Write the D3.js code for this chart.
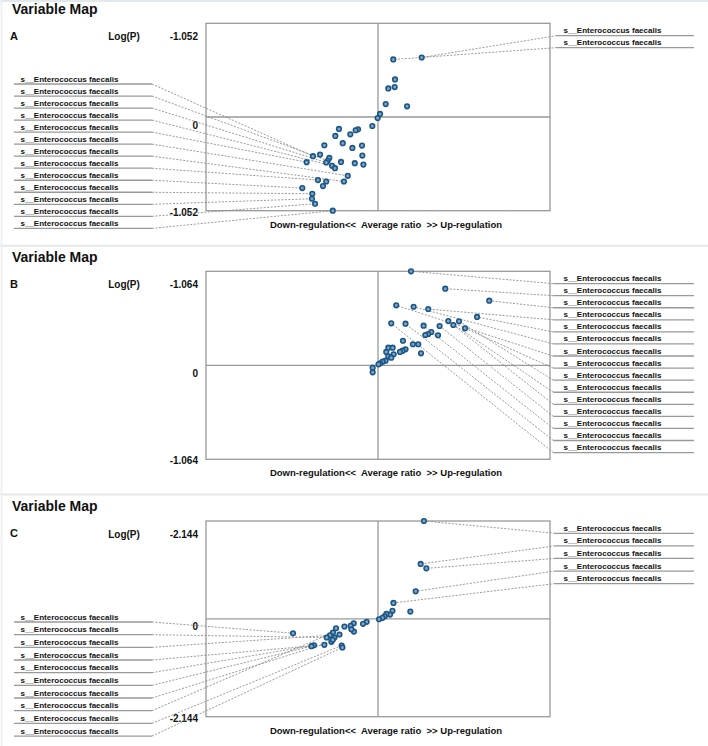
<!DOCTYPE html>
<html lang="en">
<head>
<meta charset="UTF-8" />
<title>Variable Map</title>
<script src="https://cdn.jsdelivr.net/npm/d3@7/dist/d3.min.js"></script>
<style>
  body { margin: 0; background: #fff; }
  svg text { font-family: "Liberation Sans", Arial, sans-serif; font-weight: bold; fill: #111; }
</style>
</head>
<body>
<script>

// ---- values ----
var chartTitle = "Variable Map";
var yTitle = "Log(P)";
var xTitle = "Down-regulation<<  Average ratio  >> Up-regulation";
var taxon = "s__Enterococcus faecalis";

// panel A  [average ratio, log(P)]
var aMax = 1.052;
var aTickLabels = ["-1.052", "0", "-1.052"];
var aPoints = [
  [0.089, 0.646], [0.254, 0.668], [0.099, 0.422], [0.060, 0.321], [0.097, 0.336],
  [0.045, 0.145], [0.169, 0.120], [0.012, 0.034], [-0.002, -0.011], [-0.033, -0.101],
  [-0.227, -0.134], [-0.248, -0.213], [-0.116, -0.138], [-0.130, -0.149], [-0.161, -0.194],
  [-0.312, -0.317], [-0.205, -0.294], [-0.149, -0.347], [-0.093, -0.321], [-0.337, -0.422],
  [-0.378, -0.440], [-0.283, -0.459], [-0.292, -0.492], [-0.301, -0.511], [-0.415, -0.507],
  [-0.215, -0.504], [-0.091, -0.433], [-0.135, -0.518], [-0.085, -0.534], [-0.267, -0.548],
  [-0.250, -0.574], [-0.176, -0.660], [-0.349, -0.708], [-0.301, -0.724], [-0.198, -0.724],
  [-0.320, -0.776], [-0.440, -0.798], [-0.382, -0.862], [-0.384, -0.918], [-0.366, -0.974],
  [-0.263, -1.052]
];
var aLeftLinks = [20, 22, 23, 29, 24, 31, 34, 32, 36, 37, 38, 39, 40];
var aRightLinks = [1, 0];

// panel B
var bMax = 1.064;
var bTickLabels = ["-1.064", "0", "-1.064"];
var bPoints = [
  [0.192, 1.064], [0.391, 0.867], [0.647, 0.731], [0.106, 0.679], [0.207, 0.663],
  [0.292, 0.637], [0.576, 0.547], [0.077, 0.475], [0.160, 0.471], [0.265, 0.448],
  [0.358, 0.445], [0.409, 0.501], [0.438, 0.456], [0.471, 0.498], [0.506, 0.419],
  [0.310, 0.377], [0.292, 0.354], [0.275, 0.343], [0.349, 0.340], [0.145, 0.278],
  [0.203, 0.238], [0.234, 0.238], [0.250, 0.136], [0.160, 0.181], [0.143, 0.165],
  [0.128, 0.151], [0.060, 0.199], [0.085, 0.199], [0.048, 0.151], [0.091, 0.125],
  [0.060, 0.102], [0.077, 0.086], [0.044, 0.052], [0.027, 0.041], [0.013, 0.023],
  [0.003, 0.011], [-0.031, -0.027], [-0.031, -0.079]
];
var bLeftLinks = [];
var bRightLinks = [0, 1, 2, 5, 6, 4, 3, 14, 13, 11, 12, 10, 9, 8, 7];

// panel C
var cMax = 2.144;
var cTickLabels = ["-2.144", "0", "-2.144"];
var cPoints = [
  [0.267, 2.144], [0.248, 1.203], [0.281, 1.107], [0.219, 0.604], [0.090, 0.350],
  [0.188, 0.160], [0.084, 0.175], [0.070, 0.094], [0.049, 0.109], [0.039, 0.057],
  [0.026, 0.022], [0.006, -0.009], [-0.066, -0.066], [-0.087, -0.109], [-0.141, -0.096],
  [-0.159, -0.153], [-0.195, -0.168], [-0.140, -0.278], [-0.155, -0.228], [-0.244, -0.206],
  [-0.262, -0.300], [-0.279, -0.359], [-0.298, -0.409], [-0.253, -0.409], [-0.224, -0.343],
  [-0.271, -0.503], [-0.263, -0.459], [-0.312, -0.569], [-0.372, -0.578], [-0.387, -0.599],
  [-0.211, -0.584], [-0.207, -0.628], [-0.494, -0.315]
];
var cLeftLinks = [32, 22, 21, 27, 28, 29, 25, 20, 30, 31];
var cRightLinks = [0, 1, 2, 3, 4];

// ---- layout ----
var w = 708, h = 746;
var boxLeft = 206, boxRight = 550;
var grey = "#999999";

var panels = [
  { letter: "A", max: aMax, ticks: aTickLabels, points: aPoints, left: aLeftLinks, right: aRightLinks,
    titleY: 9.5, top: 23.3, bottom: 210.7, leftY: 78.7, leftStep: 12.03, rightY: 30.3, rightStep: 12, rightX: 557 },
  { letter: "B", max: bMax, ticks: bTickLabels, points: bPoints, left: bLeftLinks, right: bRightLinks,
    titleY: 256.7, top: 271.3, bottom: 459.3, leftY: 0, leftStep: 12, rightY: 278.3, rightStep: 12.07, rightX: 553.3 },
  { letter: "C", max: cMax, ticks: cTickLabels, points: cPoints, left: cLeftLinks, right: cRightLinks,
    titleY: 505.7, top: 521, bottom: 716.7, leftY: 616.7, leftStep: 12.67, rightY: 528, rightStep: 12.58, rightX: 555 }
];

var svg = d3.select("body").append("svg")
            .attr("width", w)
            .attr("height", h);

// faint frame / separators between the three maps
svg.selectAll("line.sep")
   .data([1, 245.7, 494.5])
   .enter()
   .append("line")
   .attr("x1", 0).attr("x2", w)
   .attr("y1", function(d) { return d; })
   .attr("y2", function(d) { return d; })
   .style("stroke", "#e3e8ec")
   .style("stroke-width", 2);

svg.append("line")
   .attr("x1", 1.5).attr("x2", 1.5)
   .attr("y1", 0).attr("y2", h)
   .style("stroke", "#eef1f3")
   .style("stroke-width", 2);

panels.forEach(function(p) {

  var xScale = d3.scaleLinear()
                 .domain([-1, 1])
                 .range([boxLeft, boxRight]);

  var yScale = d3.scaleLinear()
                 .domain([-p.max, p.max])
                 .range([p.bottom, p.top]);

  var g = svg.append("g");

  // title + letter
  g.append("text")
   .text(chartTitle)
   .attr("x", 12)
   .attr("y", p.titleY)
   .attr("dy", "0.35em")
   .style("font-size", "14px");

  g.append("text")
   .text(p.letter)
   .attr("x", 10)
   .attr("y", yScale(p.max) + 12.5)
   .attr("dy", "0.35em")
   .style("font-size", "11px");

  g.append("text")
   .text(yTitle)
   .attr("x", 124)
   .attr("y", yScale(p.max) + 13)
   .attr("dy", "0.35em")
   .attr("text-anchor", "middle")
   .style("font-size", "10px");

  // y labels (top, zero, bottom)
  var tickVals = [p.max, 0, -p.max];
  var tickOff = [13, 8, 1.5];
  g.selectAll("text.tick")
   .data(tickVals)
   .enter()
   .append("text")
   .attr("class", "tick")
   .text(function(d, i) { return p.ticks[i]; })
   .attr("x", 198)
   .attr("y", function(d, i) { return yScale(d) + tickOff[i]; })
   .attr("dy", "0.35em")
   .attr("text-anchor", "end")
   .style("font-size", "10px");

  // box and cross lines
  g.append("rect")
   .attr("x", xScale(-1))
   .attr("y", yScale(p.max))
   .attr("width", xScale(1) - xScale(-1))
   .attr("height", yScale(-p.max) - yScale(p.max))
   .style("fill", "none")
   .style("stroke", grey)
   .style("stroke-width", 1.3);

  g.append("line")
   .attr("x1", xScale(0)).attr("x2", xScale(0))
   .attr("y1", yScale(p.max)).attr("y2", yScale(-p.max))
   .style("stroke", grey)
   .style("stroke-width", 1.3);

  g.append("line")
   .attr("x1", xScale(-1)).attr("x2", xScale(1))
   .attr("y1", yScale(0)).attr("y2", yScale(0))
   .style("stroke", grey)
   .style("stroke-width", 1.3);

  g.append("text")
   .text(xTitle)
   .attr("x", 386)
   .attr("y", yScale(-p.max) + 13.5)
   .attr("dy", "0.35em")
   .attr("text-anchor", "middle")
   .style("font-size", "9.5px")
   .style("white-space", "pre");

  // label rows, left and right
  var rows = [];
  p.left.forEach(function(idx, i) {
    rows.push({ idx: idx, ty: p.leftY + i * p.leftStep, x1: 14, x2: 152, tx: 20.5, anchorX: 152 });
  });
  p.right.forEach(function(idx, i) {
    rows.push({ idx: idx, ty: p.rightY + i * p.rightStep, x1: p.rightX, x2: 694, tx: 563.5, anchorX: p.rightX });
  });

  // dashed leaders
  g.selectAll("line.lead")
   .data(rows)
   .enter()
   .append("line")
   .attr("x1", function(d) { return d.anchorX; })
   .attr("y1", function(d) { return d.ty + 5.3; })
   .attr("x2", function(d) { return xScale(p.points[d.idx][0]); })
   .attr("y2", function(d) { return yScale(p.points[d.idx][1]); })
   .style("stroke", "#888")
   .style("stroke-width", 0.85)
   .style("stroke-dasharray", "2,1.5");

  g.selectAll("line.under")
   .data(rows)
   .enter()
   .append("line")
   .attr("x1", function(d) { return d.x1; })
   .attr("x2", function(d) { return d.x2; })
   .attr("y1", function(d) { return d.ty + 5.3; })
   .attr("y2", function(d) { return d.ty + 5.3; })
   .style("stroke", grey)
   .style("stroke-width", 1.3);

  g.selectAll("text.lab")
   .data(rows)
   .enter()
   .append("text")
   .text(taxon)
   .attr("x", function(d) { return d.tx; })
   .attr("y", function(d) { return d.ty; })
   .attr("dy", "0.35em")
   .style("font-size", "8px");

  // markers
  g.selectAll("circle")
   .data(p.points)
   .enter()
   .append("circle")
   .attr("cx", function(d) { return xScale(d[0]); })
   .attr("cy", function(d) { return yScale(d[1]); })
   .attr("r", 2.3)
   .style("fill", "#7fa6c6")
   .style("stroke", "#1c5686")
   .style("stroke-width", 1.6);
});

</script>
</body>
</html>
